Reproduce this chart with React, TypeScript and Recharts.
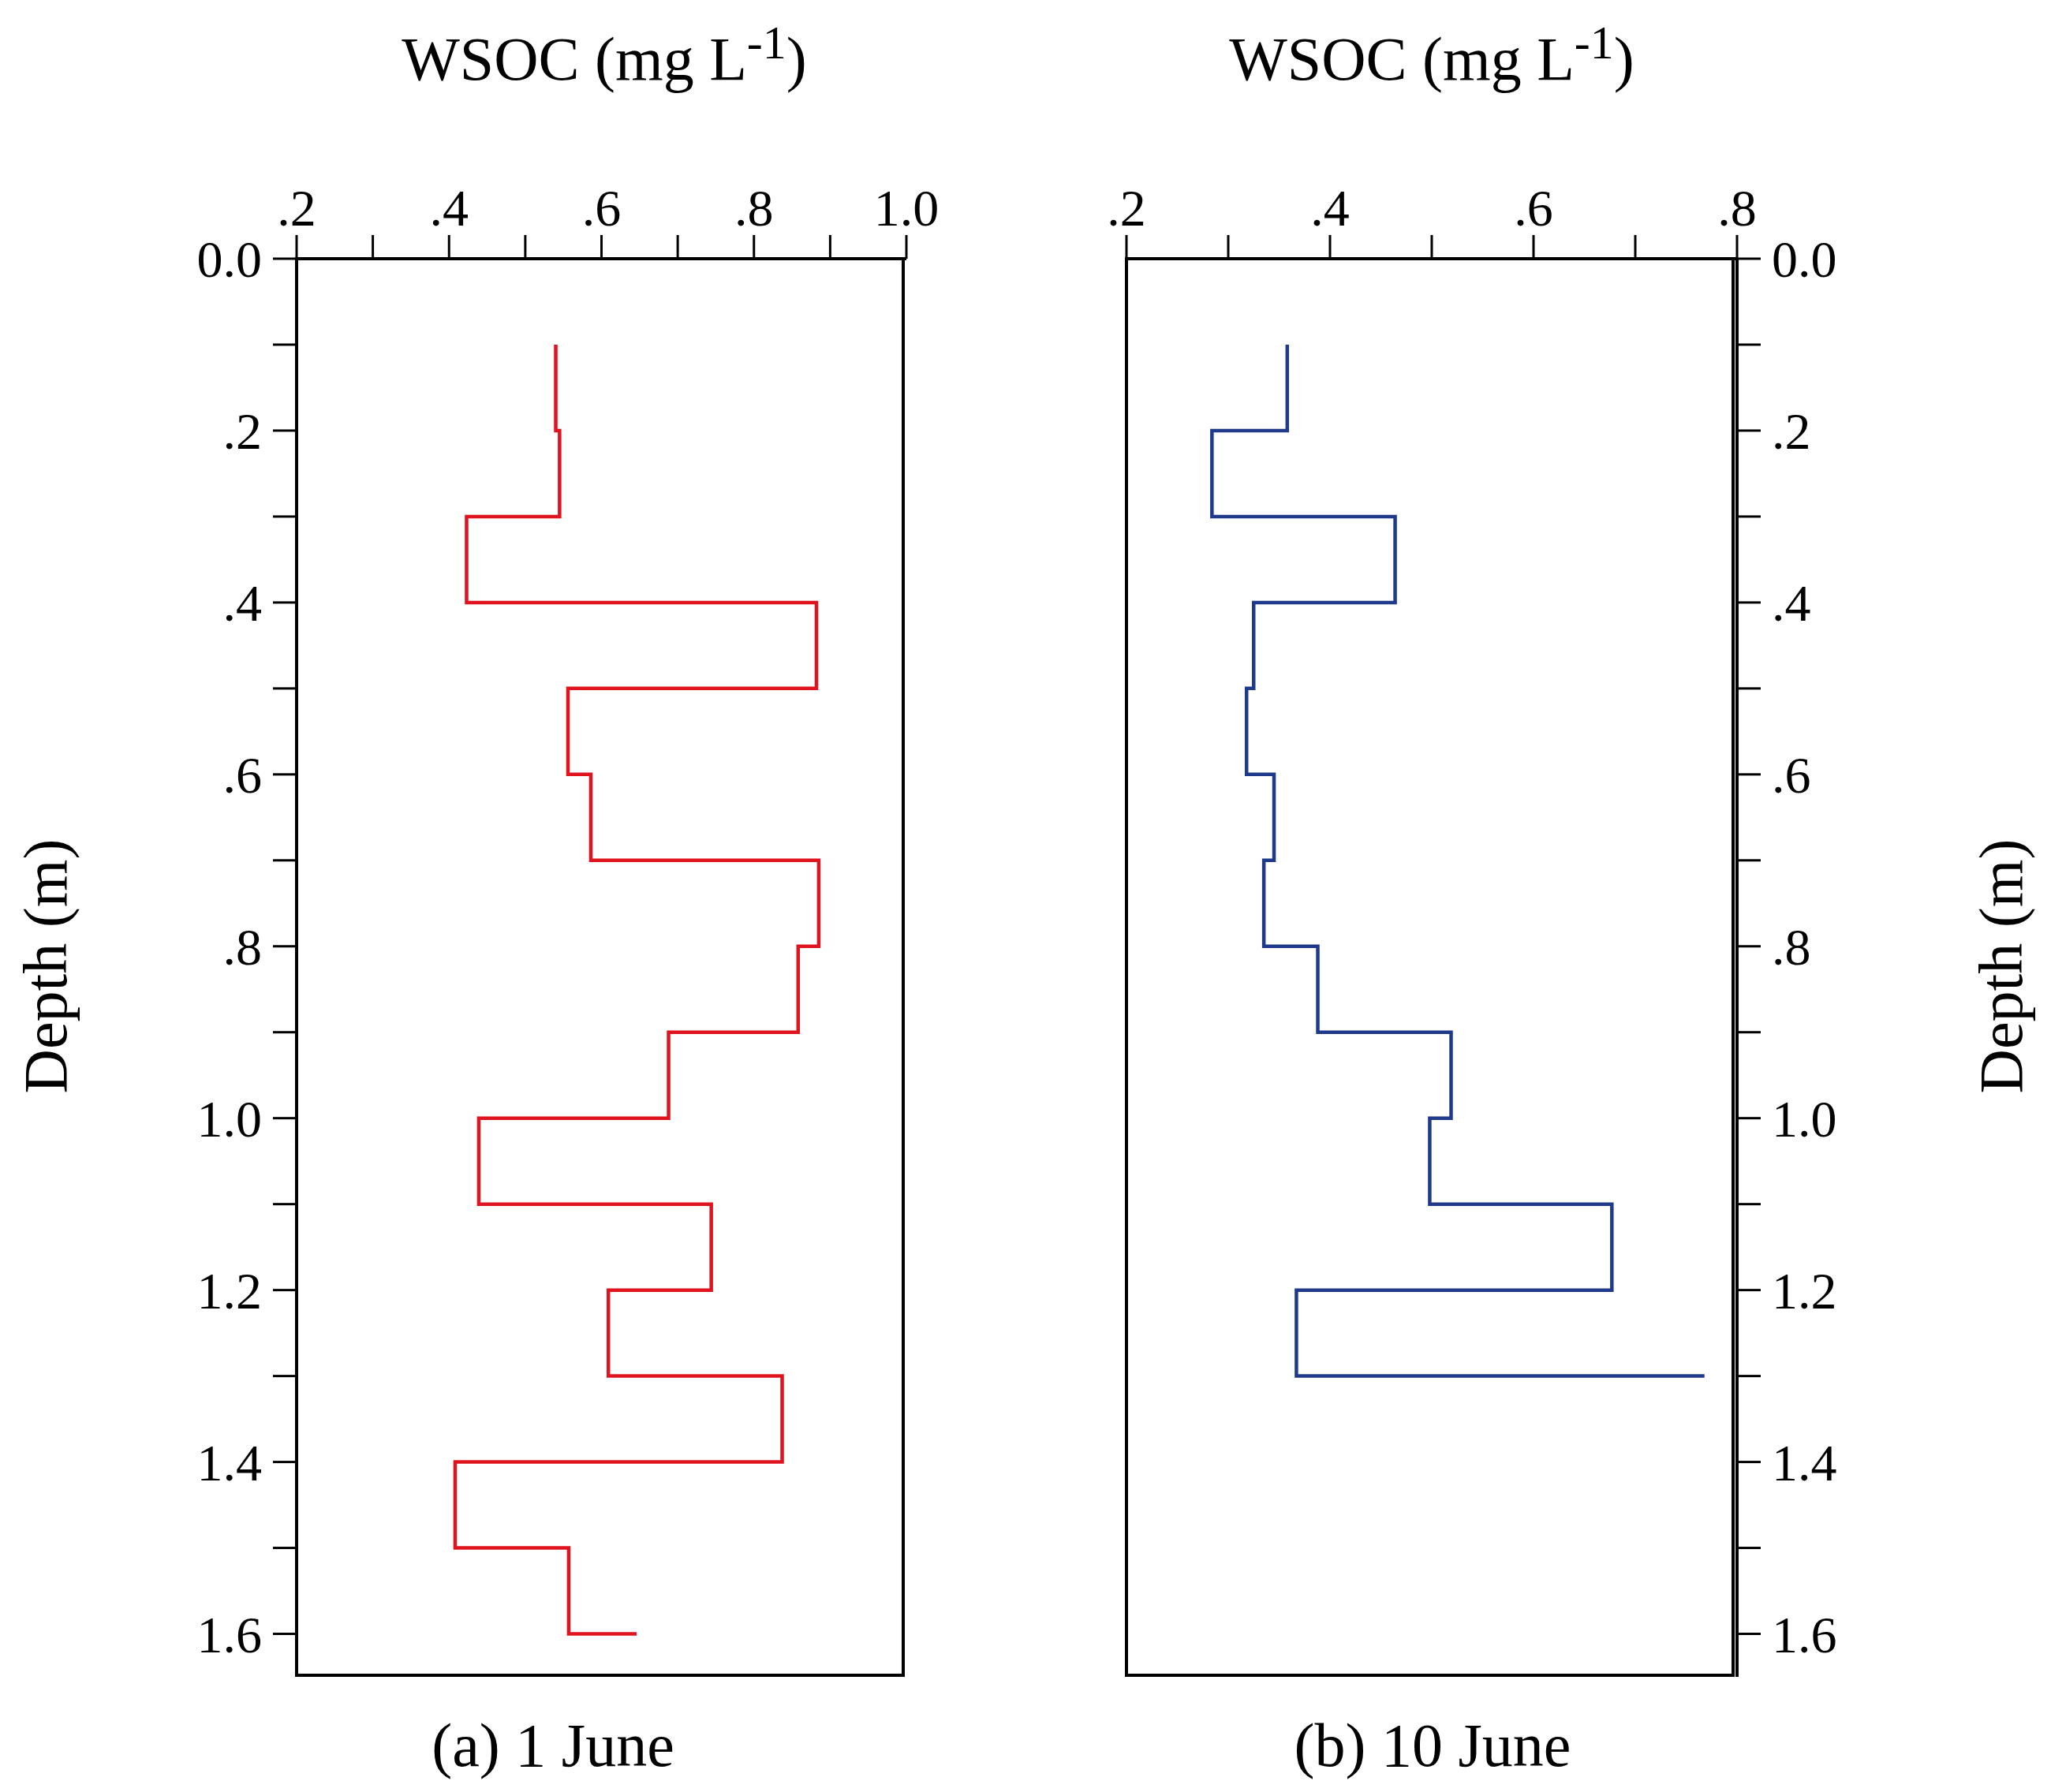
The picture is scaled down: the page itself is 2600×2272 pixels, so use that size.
import React from "react";
import { LineChart, Line, XAxis, YAxis } from "recharts";

// depth intervals (m): each value holds from depth[i] to depth[i]+0.1
const depthsA = [0.1, 0.2, 0.3, 0.4, 0.5, 0.6, 0.7, 0.8, 0.9, 1.0, 1.1, 1.2, 1.3, 1.4, 1.5];
const wsocA = [0.54, 0.545, 0.423, 0.882, 0.556, 0.586, 0.885, 0.858, 0.688, 0.439, 0.744, 0.609, 0.837, 0.408, 0.557];
const endA = 0.646; // horizontal stub at bottom

const depthsB = [0.1, 0.2, 0.3, 0.4, 0.5, 0.6, 0.7, 0.8, 0.9, 1.0, 1.1, 1.2];
const wsocB = [0.358, 0.284, 0.464, 0.325, 0.318, 0.345, 0.335, 0.388, 0.519, 0.498, 0.677, 0.367];
const endB = 0.768;

const depthTicks = [0, 0.1, 0.2, 0.3, 0.4, 0.5, 0.6, 0.7, 0.8, 0.9, 1.0, 1.1, 1.2, 1.3, 1.4, 1.5, 1.6];
const xTicksA = [0.2, 0.3, 0.4, 0.5, 0.6, 0.7, 0.8, 0.9, 1.0];
const xTicksB = [0.2, 0.3, 0.4, 0.5, 0.6, 0.7, 0.8];

function steps(depths: number[], vals: number[], end: number) {
  const pts: { depth: number; wsoc: number }[] = [];
  depths.forEach((d, i) => {
    pts.push({ depth: d, wsoc: vals[i] });
    pts.push({ depth: Math.round((d + 0.1) * 10) / 10, wsoc: vals[i] });
  });
  const last = pts[pts.length - 1].depth;
  pts.push({ depth: last, wsoc: end });
  return pts;
}

const fmt = (v: number) => {
  const n = Math.round(v * 10);
  if (n % 2 !== 0) return "";
  if (n === 0) return "0.0";
  if (n < 10) return "." + n;
  return (n / 10).toFixed(1);
};

const font = "'Liberation Serif', 'Times New Roman', serif";
const tickStyle = { fontSize: 66, fill: "#000", fontFamily: font };
const axisLine = { stroke: "#000", strokeWidth: 4 };
const tickLine = { stroke: "#000", strokeWidth: 3 };

function Panel({
  data, color, ticksX, domainX, yRight, margin,
}: {
  data: { depth: number; wsoc: number }[];
  color: string;
  ticksX: number[];
  domainX: [number, number];
  yRight: boolean;
  margin: { top: number; bottom: number; left: number; right: number };
}) {
  return (
    <LineChart width={1300} height={2272} layout="vertical" data={data} margin={margin}>
      <XAxis type="number" orientation="top" domain={domainX} ticks={ticksX} tickFormatter={fmt}
        height={100} tickSize={30} tick={tickStyle} tickMargin={12} axisLine={axisLine} tickLine={tickLine}
        allowDataOverflow interval={0} />
      <YAxis type="number" dataKey="depth" orientation={yRight ? "right" : "left"}
        domain={[0, 1.65]} ticks={depthTicks} tickFormatter={fmt} width={100} tickSize={30}
        tick={tickStyle} tickMargin={14} axisLine={axisLine} tickLine={tickLine} allowDataOverflow interval={0} />
      <Line dataKey="wsoc" stroke={color} strokeWidth={4.5} dot={false}
        type="linear" isAnimationActive={false} />
    </LineChart>
  );
}

const titleStyle: React.CSSProperties = {
  position: "absolute", fontFamily: font, fontSize: 78, color: "#000",
  transform: "translateX(-50%)", whiteSpace: "nowrap",
};

const boxStyle: React.CSSProperties = {
  position: "absolute", top: 326, height: 1800, width: 773, border: "4px solid #000",
  boxSizing: "border-box", pointerEvents: "none",
};

export default function App() {
  return (
    <div style={{ position: "absolute", left: 0, top: 0, width: 2600, height: 2272, background: "#fff" }}>
      <div style={{ position: "absolute", left: 0, top: 0 }}>
        <Panel data={steps(depthsA, wsocA, endA)} color="#e0141e" ticksX={xTicksA} domainX={[0.2, 1.0]}
          yRight={false} margin={{ top: 228, bottom: 146, left: 276, right: 151 }} />
      </div>
      <div style={{ position: "absolute", left: 1300, top: 0 }}>
        <Panel data={steps(depthsB, wsocB, endB)} color="#1f3a8a" ticksX={xTicksB} domainX={[0.2, 0.8]}
          yRight={true} margin={{ top: 228, bottom: 146, left: 128, right: 298 }} />
      </div>
      <div style={{ ...boxStyle, left: 374 }} />
      <div style={{ ...boxStyle, left: 1426 }} />
      <div style={{ ...titleStyle, left: 766, top: 20 }}>WSOC (mg L<sup style={{ fontSize: 60 }}>-1</sup>)</div>
      <div style={{ ...titleStyle, left: 1815, top: 20 }}>WSOC (mg L<sup style={{ fontSize: 60 }}>-1</sup>)</div>
      <div style={{ ...titleStyle, left: 701, top: 2168 }}>(a) 1 June</div>
      <div style={{ ...titleStyle, left: 1816, top: 2168 }}>(b) 10 June</div>
      <div style={{ ...titleStyle, left: 58, top: 1180, transform: "translateX(-50%) rotate(-90deg)" }}>Depth (m)</div>
      <div style={{ ...titleStyle, left: 2537, top: 1180, transform: "translateX(-50%) rotate(-90deg)" }}>Depth (m)</div>
    </div>
  );
}
